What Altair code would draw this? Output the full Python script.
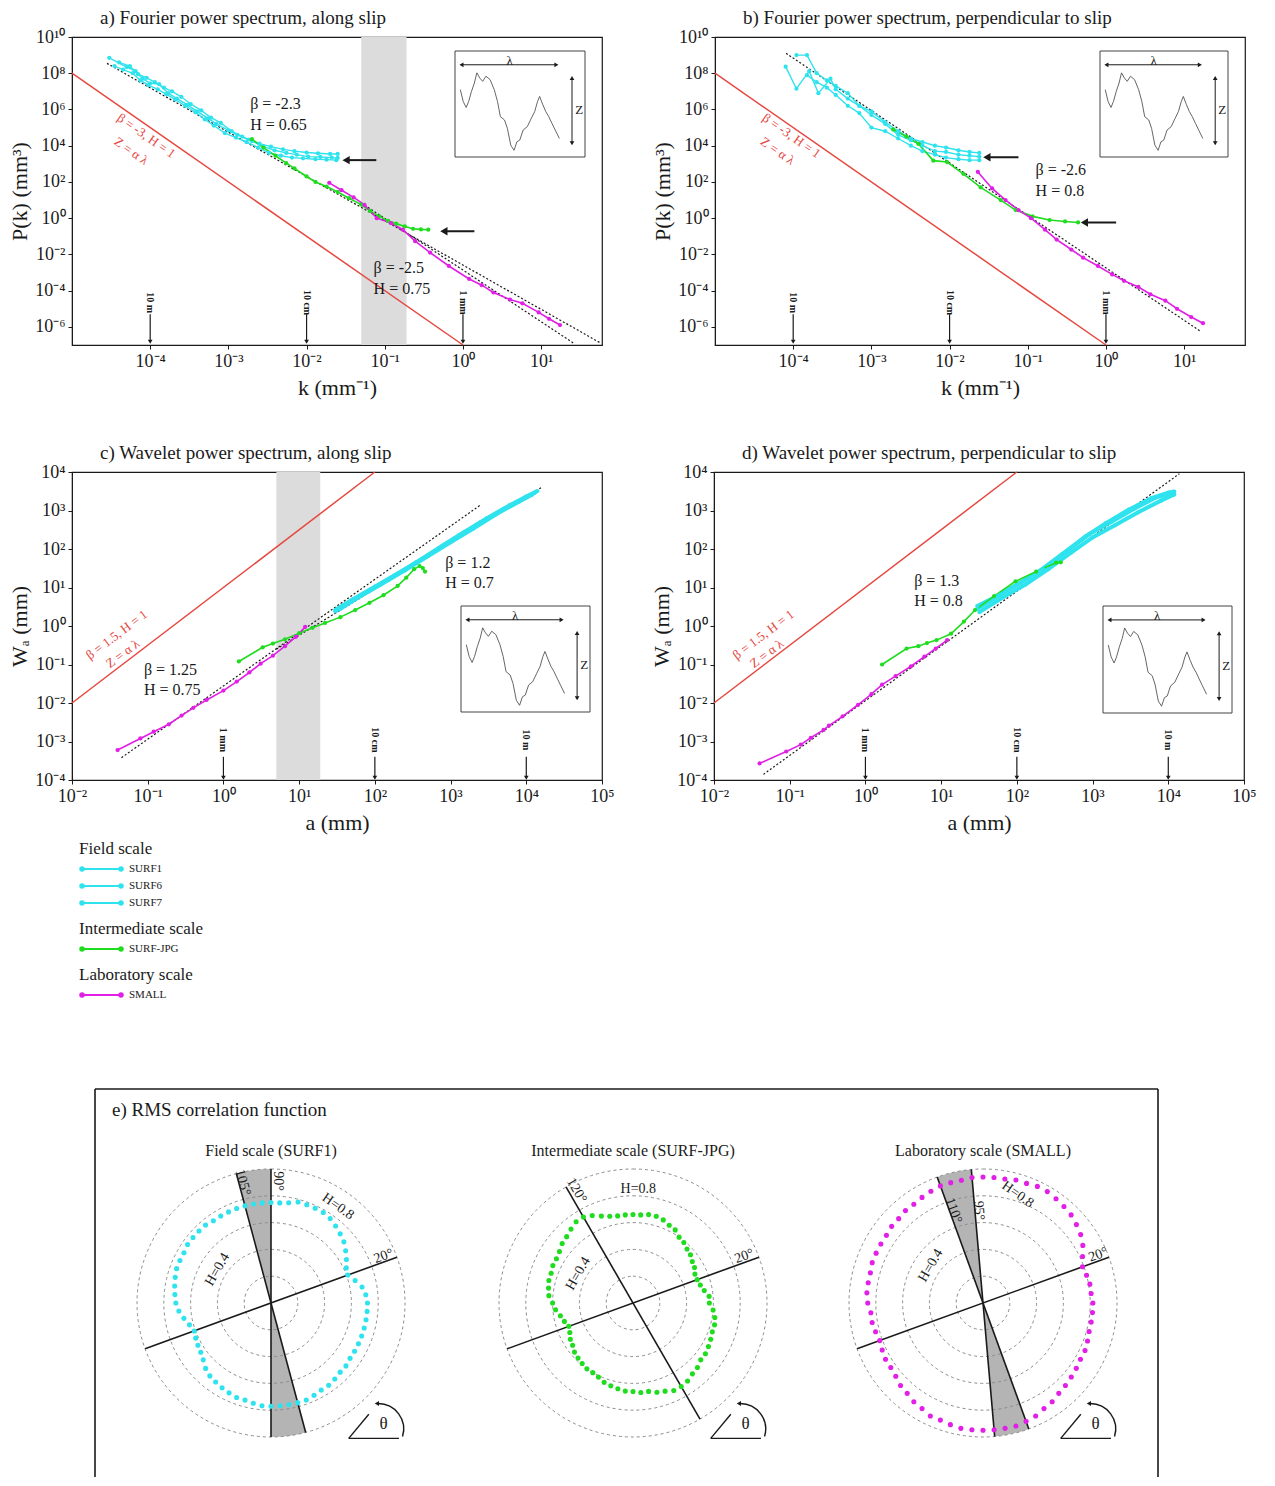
import math
import pandas as pd
import altair as alt

FONT = "Liberation Serif"
CYAN = "#2fe3ee"
GREEN = "#1fdc1f"
MAGENTA = "#e11fe6"
RED = "#e5483f"
BAND = "#dcdcdc"
WEDGE = "#b4b4b4"
GRID = "#8c8c8c"
INK = "#1a1a1a"

SERIES = ["SURF1", "SURF6", "SURF7", "SURF-JPG", "SMALL"]
SERIES_COLORS = [CYAN, CYAN, CYAN, GREEN, MAGENTA]

# ---------------- tick label exponents ----------------
FOURIER_X_EXP = [-4, -3, -2, -1, 0, 1]
FOURIER_Y_EXP = [-6, -4, -2, 0, 2, 4, 6, 8, 10]
WAVELET_X_EXP = [-2, -1, 0, 1, 2, 3, 4, 5]
WAVELET_Y_EXP = [-4, -3, -2, -1, 0, 1, 2, 3, 4]

# ---------------- panel a: Fourier, along slip ----------------
A_SURF1_K = [3e-5, 5e-5, 6.5e-5, 8e-5, 1e-4, 1.3e-4, 1.7e-4, 2.2e-4, 3e-4, 4e-4, 5.5e-4, 7e-4, 1e-3, 1.3e-3, 1.8e-3, 2.5e-3, 3.5e-3, 5e-3, 7e-3, 1e-2, 1.4e-2, 2e-2, 2.5e-2]
A_SURF1_P = [7.1e8, 2.2e8, 1.3e8, 5e7, 2.8e7, 2.5e7, 7.9e6, 4e6, 1.8e6, 7.9e5, 3.2e5, 1.6e5, 7.1e4, 4e4, 2.2e4, 1.3e4, 8.9e3, 6.3e3, 5e3, 4.2e3, 3.8e3, 3.5e3, 3.5e3]
A_SURF6_K = [4e-5, 5.5e-5, 7e-5, 9e-5, 1.15e-4, 1.5e-4, 1.9e-4, 2.5e-4, 3.3e-4, 4.5e-4, 6e-4, 8e-4, 1.1e-3, 1.5e-3, 2e-3, 2.8e-3, 3.9e-3, 5.5e-3, 7.5e-3, 1.05e-2, 1.5e-2, 2.1e-2, 2.5e-2]
A_SURF6_P = [4e8, 2.5e8, 8.9e7, 5.6e7, 3.2e7, 1.6e7, 1e7, 5e6, 2e6, 8.9e5, 3.5e5, 1.8e5, 6.3e4, 3.2e4, 1.8e4, 8.9e3, 5.6e3, 4e3, 3.2e3, 2.5e3, 2.4e3, 2.2e3, 2.1e3]
A_SURF7_K = [3.5e-5, 4.5e-5, 6e-5, 7.5e-5, 9.5e-5, 1.25e-4, 1.6e-4, 2.1e-4, 2.8e-4, 3.8e-4, 5e-4, 6.5e-4, 9e-4, 1.25e-3, 1.7e-3, 2.4e-3, 3.3e-3, 4.7e-3, 6.5e-3, 9e-3, 1.3e-2, 1.8e-2, 2.4e-2]
A_SURF7_P = [2.5e8, 1.6e8, 1e8, 4e7, 2.2e7, 1.3e7, 7.1e6, 3.5e6, 1.6e6, 7.1e5, 2.8e5, 1.3e5, 5e4, 2.8e4, 1.6e4, 7.9e3, 4e3, 2.8e3, 2.2e3, 2e3, 1.8e3, 1.7e3, 1.6e3]
A_JPG_K = [2e-3, 2.8e-3, 4e-3, 5.5e-3, 7e-3, 1e-2, 1.3e-2, 1.8e-2, 2.5e-2, 3.5e-2, 5e-2, 6.5e-2, 8.5e-2, 0.11, 0.14, 0.18, 0.23, 0.29, 0.36]
A_JPG_P = [2.3e4, 7.9e3, 2.8e3, 1.1e3, 560, 200, 100, 56, 28, 12.6, 5.6, 2.5, 1.26, 0.71, 0.5, 0.35, 0.26, 0.24, 0.23]
A_SMALL_K = [0.0195, 0.028, 0.04, 0.055, 0.079, 0.12, 0.17, 0.245, 0.38, 0.66, 1.2, 1.74, 2.45, 4.0, 5.75, 9.3, 12.6, 17.4]
A_SMALL_P = [89, 35, 14, 5.4, 1.0, 0.54, 0.23, 0.054, 0.0126, 2.3e-3, 4.4e-4, 2e-4, 7.9e-5, 3.2e-5, 2e-5, 6.3e-6, 2.8e-6, 1.26e-6]
A_RED_K = [1e-5, 1.0]
A_RED_P = [1e8, 1e-7]
A_FIT1_K = [2.8e-5, 58]
A_FIT1_P = [3.5e8, 1.26e-7]
A_FIT2_K = [0.05, 26]
A_FIT2_P = [7, 1.26e-7]
A_BAND = [0.05, 0.19]

# ---------------- panel b: Fourier, perpendicular ----------------
B_SURF1_K = [8e-5, 1.1e-4, 1.6e-4, 2.1e-4, 3e-4, 3.5e-4, 5e-4, 7e-4, 1e-3, 1.5e-3, 2.2e-3, 3.2e-3, 4.5e-3, 6.5e-3, 9e-3, 1.3e-2, 1.8e-2, 2.4e-2]
B_SURF1_P = [2.3e8, 1.4e7, 1.3e8, 7.9e6, 5e7, 1.3e7, 4e6, 1.6e6, 7.9e5, 2e5, 6.3e4, 2.5e4, 1.6e4, 1e4, 7.9e3, 5.6e3, 4.5e3, 4e3]
B_SURF6_K = [1.1e-4, 1.5e-4, 2e-4, 2.7e-4, 3.5e-4, 5e-4, 7e-4, 1e-3, 1.5e-3, 2.2e-3, 3.2e-3, 4.5e-3, 6.5e-3, 9e-3, 1.3e-2, 1.8e-2, 2.4e-2]
B_SURF6_P = [1e9, 1e9, 1e8, 4e7, 2e7, 7.9e6, 1.6e6, 5e5, 1.6e5, 4e4, 2e4, 1e4, 5e3, 4.5e3, 3.2e3, 2.8e3, 2.5e3]
B_SURF7_K = [1.5e-4, 2e-4, 2.7e-4, 3.5e-4, 5e-4, 7e-4, 1e-3, 1.5e-3, 2.2e-3, 3.2e-3, 4.5e-3, 6.5e-3, 9e-3, 1.3e-2, 1.8e-2, 2.4e-2]
B_SURF7_P = [7.9e7, 3.2e7, 1.6e7, 6.3e6, 1.6e6, 6.3e5, 1e5, 6.3e4, 2.5e4, 1e4, 5e3, 3.2e3, 2.2e3, 1.8e3, 1.6e3, 1.6e3]
B_JPG_K = [1.9e-3, 2.8e-3, 4e-3, 6.2e-3, 9.3e-3, 1.5e-2, 2.5e-2, 4.5e-2, 7e-2, 0.115, 0.19, 0.3, 0.44]
B_JPG_P = [7.9e4, 3.2e4, 1.26e4, 1.5e3, 1.26e3, 280, 50, 10, 2.8, 1.26, 0.79, 0.66, 0.58]
B_SMALL_K = [0.023, 0.035, 0.052, 0.076, 0.11, 0.166, 0.234, 0.36, 0.51, 0.79, 1.2, 1.7, 2.6, 3.7, 5.75, 8.1, 12.3, 17.4]
B_SMALL_P = [355, 44, 10, 2.8, 1.0, 0.23, 0.066, 0.0186, 6.6e-3, 2.3e-3, 7.9e-4, 3.5e-4, 1.6e-4, 6.3e-5, 2.8e-5, 1e-5, 3.5e-6, 1.6e-6]
B_RED_K = [1e-5, 1.0]
B_RED_P = [1e8, 1e-7]
B_FIT_K = [8.1e-5, 16.5]
B_FIT_P = [1.26e9, 5.4e-7]

# ---------------- panel c: wavelet, along slip ----------------
C_SURF1_A = [30, 50, 100, 200, 400, 800, 1500, 3000, 6000, 1e4, 1.4e4]
C_SURF1_W = [2.6, 4.8, 10.5, 23, 52, 125, 270, 620, 1350, 2300, 3200]
C_SURF6_A = [35, 60, 120, 250, 500, 1000, 2000, 4000, 8000, 1.2e4]
C_SURF6_W = [2.8, 5.5, 12, 28, 65, 150, 340, 800, 1700, 2600]
C_SURF7_A = [30, 45, 90, 180, 350, 700, 1300, 2500, 5000, 1e4, 1.3e4]
C_SURF7_W = [2.4, 4.0, 9, 20, 45, 105, 230, 500, 1100, 2200, 2900]
C_JPG_A = [1.6, 3.3, 4.5, 6.5, 10, 15, 22, 35, 55, 85, 130, 200, 260, 330, 390, 430, 460]
C_JPG_W = [0.12, 0.28, 0.35, 0.45, 0.65, 0.9, 1.2, 1.7, 2.6, 4.0, 6.3, 11, 18, 30, 36, 32, 26]
C_SMALL_A = [0.04, 0.08, 0.12, 0.19, 0.28, 0.4, 0.6, 1.0, 1.5, 2.2, 3.1, 4.5, 6.5, 9, 12]
C_SMALL_W = [6e-4, 1.2e-3, 1.8e-3, 2.8e-3, 4.7e-3, 7.5e-3, 0.012, 0.021, 0.036, 0.062, 0.105, 0.17, 0.3, 0.52, 0.95]
C_RED_A = [0.01, 100]
C_RED_W = [0.01, 1e4]
C_FIT1_A = [0.045, 2500]
C_FIT1_W = [3.8e-4, 1400]
C_FIT2_A = [5, 1.6e4]
C_FIT2_W = [0.25, 4000]
C_BAND = [5, 19]

# ---------------- panel d: wavelet, perpendicular ----------------
D_SURF1_A = [30, 60, 100, 200, 400, 800, 1500, 3000, 6000, 1e4, 1.2e4]
D_SURF1_W = [2.8, 6.5, 12, 27, 75, 210, 470, 1050, 2100, 2900, 3100]
D_SURF6_A = [30, 55, 110, 220, 450, 900, 1800, 3500, 7000, 1.1e4]
D_SURF6_W = [3.3, 6.0, 13, 30, 85, 240, 520, 1100, 2200, 2800]
D_SURF7_A = [32, 65, 130, 260, 520, 1000, 2000, 4000, 8000, 1.2e4]
D_SURF7_W = [2.3, 5.5, 12, 30, 80, 200, 420, 900, 1800, 2600]
D_JPG_A = [1.66, 3.5, 5, 6.5, 8.7, 13.5, 20, 28, 50, 96, 180, 330, 380]
D_JPG_W = [0.1, 0.26, 0.3, 0.36, 0.43, 0.63, 1.3, 2.6, 6, 14.5, 26, 44, 45]
D_SMALL_A = [0.04, 0.09, 0.14, 0.19, 0.28, 0.33, 0.5, 0.8, 1.2, 1.66, 2.5, 4, 6, 8.5, 12]
D_SMALL_W = [2.7e-4, 5.5e-4, 8.3e-4, 1.25e-3, 2e-3, 2.6e-3, 4.5e-3, 9e-3, 0.017, 0.03, 0.05, 0.09, 0.16, 0.26, 0.43]
D_RED_A = [0.01, 100]
D_RED_W = [0.01, 1e4]
D_FIT_A = [0.045, 1.4e4]
D_FIT_W = [1.4e-4, 9000]

# ---------------- inset profile (shared sketch) ----------------
PROFILE_U = [0.041, 0.063, 0.086, 0.105, 0.127, 0.149, 0.168, 0.19, 0.213, 0.238, 0.27, 0.302, 0.327, 0.349, 0.381, 0.403, 0.429, 0.454, 0.476, 0.498, 0.524, 0.556, 0.587, 0.613, 0.635, 0.651, 0.676, 0.698, 0.721, 0.746, 0.771, 0.803]
PROFILE_V = [0.635, 0.524, 0.467, 0.524, 0.619, 0.698, 0.794, 0.746, 0.714, 0.762, 0.73, 0.635, 0.524, 0.381, 0.349, 0.27, 0.111, 0.063, 0.143, 0.159, 0.254, 0.286, 0.365, 0.429, 0.524, 0.571, 0.492, 0.429, 0.381, 0.317, 0.254, 0.175]

# ---------------- panel e: RMS correlation (H vs azimuth) ----------------
ANGLES = list(range(0, 360, 5))
SURF1_H = [0.72, 0.71, 0.69, 0.65, 0.61, 0.62, 0.65, 0.68, 0.71, 0.73, 0.75, 0.77, 0.78, 0.78, 0.78, 0.78, 0.76, 0.75,
           0.75, 0.75, 0.75, 0.75, 0.75, 0.75, 0.75, 0.75, 0.76, 0.76, 0.76, 0.76, 0.75, 0.75, 0.75, 0.74, 0.73, 0.72,
           0.71, 0.69, 0.66, 0.63, 0.61, 0.62, 0.63, 0.64, 0.66, 0.69, 0.71, 0.72, 0.73, 0.74, 0.75, 0.75, 0.76, 0.77,
           0.77, 0.77, 0.77, 0.77, 0.77, 0.76, 0.75, 0.75, 0.74, 0.73, 0.73, 0.72, 0.72, 0.72, 0.72, 0.72, 0.72, 0.72]
JPG_H = [0.57, 0.57, 0.54, 0.52, 0.51, 0.51, 0.53, 0.54, 0.56, 0.57, 0.59, 0.60, 0.63, 0.64, 0.66, 0.67, 0.67, 0.66,
         0.66, 0.66, 0.66, 0.67, 0.69, 0.72, 0.74, 0.74, 0.72, 0.70, 0.69, 0.67, 0.66, 0.66, 0.65, 0.65, 0.64, 0.63,
         0.60, 0.58, 0.55, 0.53, 0.51, 0.52, 0.54, 0.55, 0.57, 0.58, 0.59, 0.60, 0.60, 0.61, 0.63, 0.64, 0.65, 0.66,
         0.66, 0.67, 0.67, 0.69, 0.70, 0.72, 0.72, 0.71, 0.69, 0.68, 0.66, 0.66, 0.65, 0.64, 0.63, 0.63, 0.62, 0.60]
SMALL_H = [0.82, 0.81, 0.81, 0.80, 0.79, 0.82, 0.86, 0.89, 0.91, 0.93, 0.94, 0.95, 0.96, 0.96, 0.95, 0.95, 0.94, 0.94,
           0.94, 0.94, 0.93, 0.93, 0.93, 0.92, 0.91, 0.90, 0.90, 0.89, 0.89, 0.88, 0.88, 0.88, 0.88, 0.87, 0.87, 0.87,
           0.86, 0.84, 0.84, 0.83, 0.82, 0.83, 0.84, 0.84, 0.85, 0.87, 0.88, 0.90, 0.91, 0.93, 0.93, 0.94, 0.95, 0.95,
           0.95, 0.95, 0.95, 0.95, 0.94, 0.93, 0.91, 0.90, 0.88, 0.87, 0.86, 0.85, 0.84, 0.84, 0.83, 0.82, 0.82, 0.82]
GRID_H = [0.2, 0.4, 0.6, 0.8, 1.0]

LEGEND = [("Field scale", ["SURF1", "SURF6", "SURF7"]),
          ("Intermediate scale", ["SURF-JPG"]),
          ("Laboratory scale", ["SMALL"])]

# ======================================================================
SUP = {"-": "\u207b", "0": "\u2070", "1": "\u00b9", "2": "\u00b2", "3": "\u00b3", "4": "\u2074",
       "5": "\u2075", "6": "\u2076", "7": "\u2077", "8": "\u2078", "9": "\u2079"}
PW, PH = 530, 308


def pow_expr(exps):
    expr = "''"
    for e in reversed(exps):
        s = "10" + "".join(SUP[c] for c in str(e))
        expr = f"(abs(log(datum.value)/LN10 - ({e})) < 0.01) ? '{s}' : {expr}"
    return expr


def make_axis(exps, title, is_x):
    return alt.Axis(values=[10.0 ** e for e in exps], labelExpr=pow_expr(exps), title=title,
                    grid=False, ticks=True, tickSize=4, tickColor=INK, domainColor=INK,
                    labelFont=FONT, labelFontSize=18, labelColor=INK, labelPadding=3,
                    labelFlush=False, labelOverlap=False,
                    titleFont=FONT, titleFontSize=22, titleFontWeight="normal", titleColor=INK,
                    titlePadding=7 if is_x else 3)


def series_frame(items):
    rows = []
    for name, xs, ys in items:
        for x, y in zip(xs, ys):
            rows.append({"series": name, "x": x, "y": y})
    return pd.DataFrame(rows)


def inset_layer(x0, x1, y0, y1):
    U = alt.X("u:Q", scale=alt.Scale(domain=[0, 1], range=[x0, x1]), axis=None)
    V = alt.Y("v:Q", scale=alt.Scale(domain=[0, 1], range=[y1, y0]), axis=None)
    box = alt.Chart(pd.DataFrame({"u": [0], "u2": [1], "v": [0], "v2": [1]})).mark_rect(
        fill="white", stroke="#444", strokeWidth=1).encode(x=U, x2=alt.X2("u2"), y=V, y2=alt.Y2("v2"))
    prof = alt.Chart(pd.DataFrame({"u": PROFILE_U, "v": PROFILE_V})).mark_line(
        color="#555", strokeWidth=0.9).encode(x=U, y=V)
    lam = alt.Chart(pd.DataFrame({"u": [0.06], "u2": [0.77], "v": [0.87]})).mark_rule(
        color=INK, strokeWidth=1).encode(x=U, x2=alt.X2("u2"), y=V)
    lam_heads = alt.Chart(pd.DataFrame({"u": [0.05, 0.78], "v": [0.87, 0.87], "s": ["triangle-left", "triangle-right"]})).mark_point(
        filled=True, size=22, color=INK, opacity=1).encode(x=U, y=V, shape=alt.Shape("s:N", scale=None))
    zed = alt.Chart(pd.DataFrame({"u": [0.9], "v": [0.14], "v2": [0.73]})).mark_rule(
        color=INK, strokeWidth=1).encode(x=U, y=V, y2=alt.Y2("v2"))
    zed_heads = alt.Chart(pd.DataFrame({"u": [0.9, 0.9], "v": [0.13, 0.745], "s": ["triangle-down", "triangle-up"]})).mark_point(
        filled=True, size=22, color=INK, opacity=1).encode(x=U, y=V, shape=alt.Shape("s:N", scale=None))
    txt = alt.Chart(pd.DataFrame({"t": ["\u03bb", "Z"], "u": [0.42, 0.955], "v": [0.905, 0.44]})).mark_text(
        font=FONT, fontSize=13, color=INK).encode(x=U, y=V, text="t:N")
    return alt.layer(box, prof, lam, lam_heads, zed, zed_heads, txt)


def loglog_panel(title, xdom, ydom, xexps, yexps, xtitle, ytitle, series, red, fits, band,
                 arrows, markers, notes, red_notes, red_angle, inset, cyan_width):
    X = alt.X("x:Q", scale=alt.Scale(type="log", domain=xdom, nice=False), axis=make_axis(xexps, xtitle, True))
    Y = alt.Y("y:Q", scale=alt.Scale(type="log", domain=ydom, nice=False), axis=make_axis(yexps, ytitle, False))
    C = alt.Color("series:N", scale=alt.Scale(domain=SERIES, range=SERIES_COLORS), legend=None)
    layers = []
    if band:
        layers.append(alt.Chart(pd.DataFrame({"x": [band[0]], "x2": [band[1]]})).mark_rect(
            color=BAND).encode(x=X, x2=alt.X2("x2")))
    layers.append(alt.Chart(pd.DataFrame({"x": red[0], "y": red[1]})).mark_line(
        color=RED, strokeWidth=1.5).encode(x=X, y=Y))
    fit_rows = [{"fit": i, "x": x, "y": y} for i, (xs, ys) in enumerate(fits) for x, y in zip(xs, ys)]
    layers.append(alt.Chart(pd.DataFrame(fit_rows)).mark_line(
        color=INK, strokeDash=[2, 2], strokeWidth=1.2).encode(x=X, y=Y, detail="fit:N"))
    sdf = series_frame(series)
    cyan_df = sdf[sdf.series.isin(["SURF1", "SURF6", "SURF7"])]
    other_df = sdf[~sdf.series.isin(["SURF1", "SURF6", "SURF7"])]
    layers.append(alt.Chart(cyan_df).mark_line(strokeWidth=cyan_width).encode(x=X, y=Y, color=C, detail="series:N"))
    layers.append(alt.Chart(other_df).mark_line(strokeWidth=1.6).encode(x=X, y=Y, color=C, detail="series:N"))
    layers.append(alt.Chart(sdf).mark_circle(size=18, opacity=1).encode(x=X, y=Y, color=C))
    if arrows:
        adf = pd.DataFrame([{"x": a, "x2": b, "y": y} for a, b, y in arrows])
        layers.append(alt.Chart(adf).mark_rule(color=INK, strokeWidth=2).encode(x=X, x2=alt.X2("x2"), y=Y))
        hdf = pd.DataFrame([{"x": b, "y": y} for a, b, y in arrows])
        layers.append(alt.Chart(hdf).mark_point(shape="triangle-left", filled=True, size=70, color=INK,
                                                opacity=1).encode(x=X, y=Y))
    mdf = pd.DataFrame([{"x": x, "y": yt, "y2": yb} for x, lab, yt, yb, ytx in markers])
    layers.append(alt.Chart(mdf).mark_rule(color=INK, strokeWidth=1.2).encode(x=X, y=Y, y2=alt.Y2("y2")))
    layers.append(alt.Chart(pd.DataFrame([{"x": x, "y": yb} for x, lab, yt, yb, ytx in markers])).mark_point(
        shape="triangle-down", filled=True, size=22, color=INK, opacity=1).encode(x=X, y=Y))
    layers.append(alt.Chart(pd.DataFrame([{"t": lab, "x": x, "y": ytx} for x, lab, yt, yb, ytx in markers])).mark_text(
        font=FONT, fontSize=10, fontWeight="bold", angle=90, color=INK).encode(x=X, y=Y, text="t:N"))
    layers.append(alt.Chart(pd.DataFrame(notes, columns=["t", "x", "y"])).mark_text(
        font=FONT, fontSize=16, align="left", color=INK).encode(x=X, y=Y, text="t:N"))
    layers.append(alt.Chart(pd.DataFrame(red_notes, columns=["t", "x", "y"])).mark_text(
        font=FONT, fontSize=13, angle=red_angle, color=RED).encode(x=X, y=Y, text="t:N"))
    main = alt.layer(*layers)
    return alt.layer(main, inset_layer(*inset)).resolve_scale(
        x="independent", y="independent").properties(
        width=PW, height=PH,
        title=alt.TitleParams(title, font=FONT, fontSize=19, fontWeight="normal", anchor="start",
                              frame="group", dx=28, offset=0, color=INK))


FOURIER_MARKERS = [(1e-4, "10 m", 5e-6, 1.5e-7, 2.2e-5), (1e-2, "10 cm", 5e-6, 1.5e-7, 2.2e-5), (1.0, "1 mm", 5e-6, 1.5e-7, 2.2e-5)]
WAVELET_MARKERS = [(1.0, "1 mm", 4e-4, 1.15e-4, 1.1e-3), (100, "10 cm", 4e-4, 1.15e-4, 1.1e-3), (1e4, "10 m", 4e-4, 1.15e-4, 1.1e-3)]

KT = "k (mm\u207b\u00b9)"
PT = "P(k) (mm\u00b3)"
AT = "a (mm)"
WT = "W\u2090 (mm)"

panel_a = loglog_panel(
    "a) Fourier power spectrum, along slip", [1e-5, 60], [1e-7, 1e10], FOURIER_X_EXP, FOURIER_Y_EXP, KT, PT,
    [("SURF1", A_SURF1_K, A_SURF1_P), ("SURF6", A_SURF6_K, A_SURF6_P), ("SURF7", A_SURF7_K, A_SURF7_P),
     ("SURF-JPG", A_JPG_K, A_JPG_P), ("SMALL", A_SMALL_K, A_SMALL_P)],
    (A_RED_K, A_RED_P), [(A_FIT1_K, A_FIT1_P), (A_FIT2_K, A_FIT2_P)], A_BAND,
    [(0.078, 0.032, 1.6e3), (1.4, 0.57, 0.19)], FOURIER_MARKERS,
    [("\u03b2 = -2.3", 1.9e-3, 2e6), ("H = 0.65", 1.9e-3, 1.4e5), ("\u03b2 = -2.5", 0.072, 1.8e-3), ("H = 0.75", 0.072, 1.26e-4)],
    [("\u03b2 = -3, H = 1", 8.9e-5, 3.5e4), ("Z = \u03b1 \u03bb", 5.7e-5, 5e3)], 35,
    (383, 513, 14, 120), 1.4)

panel_b = loglog_panel(
    "b) Fourier power spectrum, perpendicular to slip", [1e-5, 60], [1e-7, 1e10], FOURIER_X_EXP, FOURIER_Y_EXP, KT, PT,
    [("SURF1", B_SURF1_K, B_SURF1_P), ("SURF6", B_SURF6_K, B_SURF6_P), ("SURF7", B_SURF7_K, B_SURF7_P),
     ("SURF-JPG", B_JPG_K, B_JPG_P), ("SMALL", B_SMALL_K, B_SMALL_P)],
    (B_RED_K, B_RED_P), [(B_FIT_K, B_FIT_P)], None,
    [(0.076, 0.03, 2.3e3), (1.35, 0.53, 0.58)], FOURIER_MARKERS,
    [("\u03b2 = -2.6", 0.126, 430), ("H = 0.8", 0.126, 30)],
    [("\u03b2 = -3, H = 1", 9.5e-5, 3.5e4), ("Z = \u03b1 \u03bb", 6.3e-5, 5e3)], 35,
    (385, 513, 14, 120), 1.4)

panel_c = loglog_panel(
    "c) Wavelet power spectrum, along slip", [1e-2, 1e5], [1e-4, 1e4], WAVELET_X_EXP, WAVELET_Y_EXP, AT, WT,
    [("SURF1", C_SURF1_A, C_SURF1_W), ("SURF6", C_SURF6_A, C_SURF6_W), ("SURF7", C_SURF7_A, C_SURF7_W),
     ("SURF-JPG", C_JPG_A, C_JPG_W), ("SMALL", C_SMALL_A, C_SMALL_W)],
    (C_RED_A, C_RED_W), [(C_FIT1_A, C_FIT1_W), (C_FIT2_A, C_FIT2_W)], C_BAND,
    [], WAVELET_MARKERS,
    [("\u03b2 = 1.2", 850, 43.6), ("H = 0.7", 850, 13), ("\u03b2 = 1.25", 0.089, 0.072), ("H = 0.75", 0.089, 0.022)],
    [("\u03b2 = 1.5, H = 1", 0.039, 0.59), ("Z = \u03b1 \u03bb", 0.047, 0.19)], 323,
    (389, 518, 134, 240), 4)

panel_d = loglog_panel(
    "d) Wavelet power spectrum, perpendicular to slip", [1e-2, 1e5], [1e-4, 1e4], WAVELET_X_EXP, WAVELET_Y_EXP, AT, WT,
    [("SURF1", D_SURF1_A, D_SURF1_W), ("SURF6", D_SURF6_A, D_SURF6_W), ("SURF7", D_SURF7_A, D_SURF7_W),
     ("SURF-JPG", D_JPG_A, D_JPG_W), ("SMALL", D_SMALL_A, D_SMALL_W)],
    (D_RED_A, D_RED_W), [(D_FIT_A, D_FIT_W)], None,
    [], WAVELET_MARKERS,
    [("\u03b2 = 1.3", 4.4, 14.8), ("H = 0.8", 4.4, 4.5)],
    [("\u03b2 = 1.5, H = 1", 0.045, 0.59), ("Z = \u03b1 \u03bb", 0.05, 0.19)], 323,
    (389, 518, 134, 241), 4)

# ======================================================================
# bottom block: legend + panel e  (page coordinates of its origin)
X0, Y0 = 71, 838
POLAR_R = 134


def cx(px):
    return px - X0


def cy(py):
    return py - Y0


def one(**kw):
    return pd.DataFrame({k: [v] for k, v in kw.items()})


def polar_group(subtitle, h_vals, color, line_angles, wedges, labels, pcx, pcy):
    R = POLAR_R
    XS = alt.X("px:Q", scale=alt.Scale(domain=[-1, 1], range=[pcx - R, pcx + R]), axis=None)
    YS = alt.Y("py:Q", scale=alt.Scale(domain=[-1, 1], range=[pcy + R, pcy - R]), axis=None)
    RSC = alt.Scale(type="linear", domain=[0, 1], range=[0, R], zero=True)
    RS = alt.Radius("r:Q", scale=RSC, stack=None)
    layers = []
    if wedges:
        wd = pd.DataFrame([{"a1": a, "a2": b, "px": 0.0, "py": 0.0, "r": 1.0} for a, b in wedges])
        layers.append(alt.Chart(wd).transform_calculate(
            t1="PI/2 - datum.a2*PI/180", t2="PI/2 - datum.a1*PI/180").mark_arc(color=WEDGE).encode(
            x=XS, y=YS, radius=RS, theta=alt.Theta("t1:Q", scale=None, stack=None), theta2=alt.Theta2("t2")))
    for g in GRID_H:
        layers.append(alt.Chart(one(px=0.0, py=0.0, r=g)).mark_arc(
            filled=False, stroke=GRID, strokeDash=[3, 3], strokeWidth=1,
            theta=0, theta2=6.2832).encode(x=XS, y=YS, radius=RS))
    ld = pd.DataFrame({"ang": line_angles})
    layers.append(alt.Chart(ld).transform_calculate(
        px="-cos(datum.ang*PI/180)", py="-sin(datum.ang*PI/180)",
        px2="cos(datum.ang*PI/180)", py2="sin(datum.ang*PI/180)").mark_rule(
        color=INK, strokeWidth=1.6).encode(x=XS, y=YS, x2=alt.X2("px2"), y2=alt.Y2("py2")))
    dd = pd.DataFrame({"ang": ANGLES, "H": h_vals})
    layers.append(alt.Chart(dd).transform_calculate(
        px="datum.H*cos(datum.ang*PI/180)", py="datum.H*sin(datum.ang*PI/180)").mark_circle(
        size=26, color=color, opacity=1).encode(x=XS, y=YS))
    for t, x, y, ang in labels:
        layers.append(alt.Chart(one(t=t, px=x, py=y)).mark_text(
            font=FONT, fontSize=14, angle=ang, color=INK).encode(x=XS, y=YS, text="t:N"))
    layers.append(alt.Chart(one(t=subtitle, px=0.0, py=1.135)).mark_text(
        font=FONT, fontSize=16, color=INK).encode(x=XS, y=YS, text="t:N"))
    # theta symbol
    layers.append(alt.Chart(pd.DataFrame({"px": [0.58, 0.58], "py": [-1.01, -1.01], "px2": [0.955, 0.73], "py2": [-1.01, -0.83]})).mark_rule(
        color=INK, strokeWidth=1.4).encode(x=XS, y=YS, x2=alt.X2("px2"), y2=alt.Y2("py2")))
    layers.append(alt.Chart(one(px=0.80, py=-0.94, r=0.19, r2=0.19)).mark_arc(
        filled=False, stroke=INK, strokeWidth=1.4, theta=0, theta2=1.87).encode(
        x=XS, y=YS, radius=RS, radius2=alt.Radius2("r2")))
    layers.append(alt.Chart(one(px=0.79, py=-0.75)).mark_point(
        shape="triangle-left", filled=True, size=25, color=INK, opacity=1).encode(x=XS, y=YS))
    layers.append(alt.Chart(one(t="\u03b8", px=0.84, py=-0.90)).mark_text(
        font=FONT, fontSize=17, color=INK).encode(x=XS, y=YS, text="t:N"))
    return alt.layer(*layers)


blayers = []
# legend
ly = cy(848)
for head, items in LEGEND:
    blayers.append(alt.Chart(one(t=head)).mark_text(font=FONT, fontSize=17, align="left", color=INK).encode(
        x=alt.value(cx(78)), y=alt.value(ly), text="t:N"))
    ly += 20
    for name in items:
        col = SERIES_COLORS[SERIES.index(name)]
        blayers.append(alt.Chart(one(t=name)).mark_rule(color=col, strokeWidth=2).encode(
            x=alt.value(cx(81)), x2=alt.value(cx(120)), y=alt.value(ly)))
        blayers.append(alt.Chart(one(t=name)).mark_circle(color=col, size=30, opacity=1).encode(
            x=alt.value(cx(81)), y=alt.value(ly)))
        blayers.append(alt.Chart(one(t=name)).mark_circle(color=col, size=30, opacity=1).encode(
            x=alt.value(cx(120)), y=alt.value(ly)))
        blayers.append(alt.Chart(one(t=name)).mark_text(font=FONT, fontSize=11, align="left", color=INK).encode(
            x=alt.value(cx(128)), y=alt.value(ly), text="t:N"))
        ly += 17
    ly += 9

BOX_TOP, BOX_BOTTOM, BOX_L, BOX_R = 1088, 1476, 94, 1157
blayers.append(alt.Chart(one(t="box")).mark_rule(color=INK, strokeWidth=1.6).encode(
    x=alt.value(cx(BOX_L)), x2=alt.value(cx(BOX_R)), y=alt.value(cy(BOX_TOP))))
blayers.append(alt.Chart(one(t="box")).mark_rule(color=INK, strokeWidth=1.6).encode(
    x=alt.value(cx(BOX_L)), y=alt.value(cy(BOX_TOP)), y2=alt.value(cy(BOX_BOTTOM))))
blayers.append(alt.Chart(one(t="box")).mark_rule(color=INK, strokeWidth=1.6).encode(
    x=alt.value(cx(BOX_R)), y=alt.value(cy(BOX_TOP)), y2=alt.value(cy(BOX_BOTTOM))))
blayers.append(alt.Chart(one(t="e) RMS correlation function")).mark_text(
    font=FONT, fontSize=19, align="left", color=INK).encode(x=alt.value(cx(111)), y=alt.value(cy(1109)), text="t:N"))

blayers.append(polar_group("Field scale (SURF1)", SURF1_H, CYAN, [20, 90, 105], [(90, 105), (270, 285)],
                           [("105\u00b0", -0.21, 0.90, 75), ("90\u00b0", 0.05, 0.91, 90), ("20\u00b0", 0.84, 0.35, 340),
                            ("H=0.8", 0.50, 0.72, 35), ("H=0.4", -0.40, 0.25, 300)], cx(270), cy(1302)))
blayers.append(polar_group("Intermediate scale (SURF-JPG)", JPG_H, GREEN, [20, 120], [],
                           [("120\u00b0", -0.42, 0.84, 60), ("20\u00b0", 0.83, 0.35, 340),
                            ("H=0.8", 0.04, 0.85, 0), ("H=0.4", -0.41, 0.22, 300)], cx(632), cy(1302)))
blayers.append(polar_group("Laboratory scale (SMALL)", SMALL_H, MAGENTA, [20, 95, 110], [(95, 110), (275, 290)],
                           [("110\u00b0", -0.22, 0.69, 70), ("95\u00b0", -0.03, 0.69, 85), ("20\u00b0", 0.86, 0.36, 340),
                            ("H=0.8", 0.26, 0.81, 35), ("H=0.4", -0.39, 0.28, 300)], cx(982), cy(1302)))

bottom = alt.layer(*blayers).resolve_scale(x="independent", y="independent").properties(
    width=1100, height=cy(BOX_BOTTOM) + 1, view=alt.ViewBackground(stroke="transparent"))

row1 = alt.hconcat(panel_a, panel_b, spacing=47)
row2 = alt.hconcat(panel_c, panel_d, spacing=35)
top = alt.vconcat(row1, row2, spacing=44)
chart = alt.vconcat(top, bottom, spacing=4, padding=0).configure_view(stroke=INK, strokeWidth=1.2)

chart.save("out.html", embed_options={"renderer": "svg", "actions": False})
